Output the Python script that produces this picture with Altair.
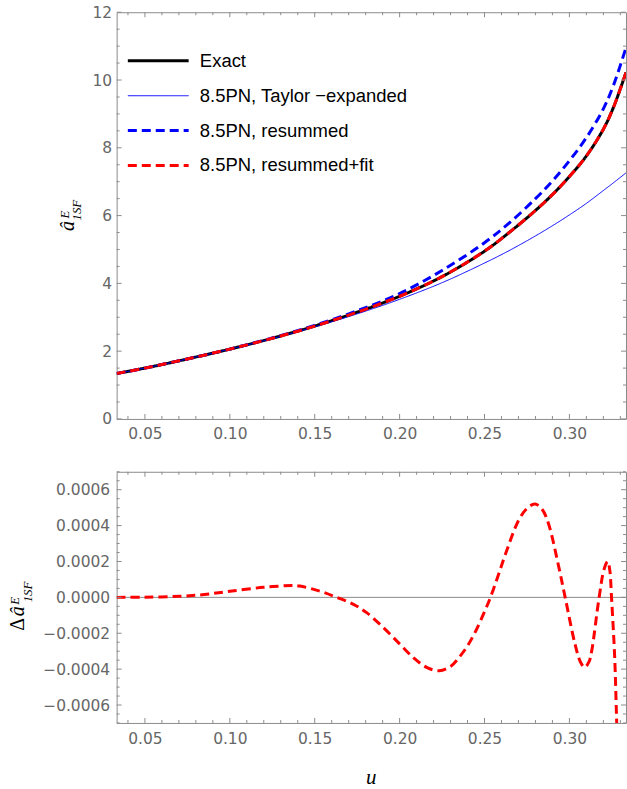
import altair as alt
import pandas as pd

# ---- upper panel: a_1SF^E versus u ----
u_vals = [0.0333, 0.05, 0.075, 0.10, 0.125, 0.15, 0.175, 0.20, 0.225, 0.25,
          0.265, 0.28, 0.29, 0.30, 0.31, 0.32, 0.326, 0.3333]
exact_vals = [1.34, 1.50, 1.77, 2.06, 2.38, 2.74, 3.15, 3.62, 4.20, 4.95,
              5.52, 6.15, 6.62, 7.15, 7.76, 8.55, 9.20, 10.22]
taylor_vals = [1.34, 1.50, 1.77, 2.06, 2.37, 2.72, 3.10, 3.53, 4.02, 4.60,
               4.98, 5.40, 5.70, 6.02, 6.36, 6.74, 6.97, 7.26]
resummed_vals = [1.34, 1.50, 1.77, 2.06, 2.39, 2.76, 3.19, 3.70, 4.38, 5.20,
                 5.80, 6.50, 7.02, 7.62, 8.30, 9.15, 9.85, 10.95]
# the fitted resummation agrees with the exact values to ~1e-3 (lower panel)
fit_vals = list(exact_vals)

# ---- lower panel: residual of the resummed+fit model ----
res_u = [0.0333, 0.05, 0.07, 0.085, 0.10, 0.12, 0.137, 0.1412, 0.153, 0.163,
         0.1728, 0.1806, 0.1904, 0.2002, 0.208, 0.2159, 0.2233, 0.230,
         0.235, 0.24, 0.2447, 0.25, 0.2535, 0.258, 0.2623, 0.2701, 0.275,
         0.2797, 0.284, 0.2877, 0.2935, 0.2975, 0.3033, 0.3065, 0.3090,
         0.3115, 0.3131, 0.3175, 0.3205, 0.3226, 0.3238, 0.3248, 0.3267,
         0.3277, 0.3285]
res_vals = [0.0, 0.000001, 0.000006, 0.000016, 0.000034, 0.000056, 0.000066,
            0.000063, 0.000035, 0.0, -0.000039, -0.000085, -0.000168,
            -0.000261, -0.000335, -0.00039, -0.000409, -0.000385, -0.000335,
            -0.00027, -0.00019, -0.00008, 0.0, 0.00012, 0.00024, 0.00043,
            0.000495, 0.00052, 0.00049, 0.00041, 0.00018, 0.0, -0.00026,
            -0.00036, -0.00039, -0.00036, -0.0003, 0.0, 0.00016, 0.0002,
            0.00015, 0.0, -0.00034, -0.00065, -0.0009]

# ---- tick positions ----
x_major = [0.05, 0.10, 0.15, 0.20, 0.25, 0.30]
x_minor = [round(0.01 * k, 2) for k in range(4, 34) if k % 5 != 0]
y_top_major = [0, 2, 4, 6, 8, 10, 12]
y_top_minor = [0.5 * k for k in range(1, 24) if k % 4 != 0]
y_bot_major = [-0.0006, -0.0004, -0.0002, 0.0, 0.0002, 0.0004, 0.0006]
y_bot_minor = [round(0.00005 * k, 6) for k in range(-14, 15) if k % 4 != 0]

SERIES = ["Exact", "8.5PN, Taylor \u2212expanded", "8.5PN, resummed",
          "8.5PN, resummed+fit"]
COLORS = ["#000000", "#0000ff", "#0000ff", "#ff0000"]
DASHES = [[1, 0], [1, 0], [9, 5], [9, 5]]
WIDTHS = [3, 1, 3, 3]

W, H_TOP, H_BOT, GAP = 511, 408, 252, 53
FRAME = "#8c8c8c"
LABEL = "#666666"
MAJOR, MINOR = 5, 3
SANS = "Liberation Sans"
TICK_FONT = "DejaVu Sans"
SERIF = "Liberation Serif"

x_scale = alt.Scale(domain=[1 / 30, 1 / 3], nice=False, zero=False)
y_top_scale = alt.Scale(domain=[0, 12], nice=False)
y_bot_scale = alt.Scale(domain=[-0.0007, 0.0007], nice=False)


def label_axis(values, fmt, pad):
    """Tick labels only; the frame ticks are drawn as rule layers."""
    return alt.Axis(values=values, format=fmt, title=None, ticks=False,
                    tickSize=0, domain=False, grid=False, labelPadding=pad,
                    labelFont=TICK_FONT, labelFontSize=15.5,
                    labelColor=LABEL)


AX_X_TOP = label_axis(x_major, ".2f", 8)
AX_Y_TOP = label_axis(y_top_major, "d", 5)
AX_X_BOT = label_axis(x_major, ".2f", 9)
AX_Y_BOT = label_axis(y_bot_major, ".4f", 7)

top_df = pd.DataFrame({
    "u": u_vals * 4,
    "value": exact_vals + taylor_vals + resummed_vals + fit_vals,
    "series": [s for s in SERIES for _ in u_vals],
})
res_df = pd.DataFrame({"u": res_u, "delta": res_vals})


def frame_ticks(y_scale, x_axis, y_axis, ys_major, ys_minor, height):
    """Inward-pointing ticks on all four sides of a panel."""
    layers = []
    for vals, size in ((x_major, MAJOR), (x_minor, MINOR)):
        base = alt.Chart(pd.DataFrame({"v": vals}))
        xenc = alt.X("v:Q", scale=x_scale, axis=x_axis)
        layers.append(base.mark_rule(color=FRAME, strokeWidth=1).encode(
            x=xenc, y=alt.value(height), y2=alt.value(height - size)))
        layers.append(base.mark_rule(color=FRAME, strokeWidth=1).encode(
            x=xenc, y=alt.value(0), y2=alt.value(size)))
    for vals, size in ((ys_major, MAJOR), (ys_minor, MINOR)):
        base = alt.Chart(pd.DataFrame({"v": vals}))
        yenc = alt.Y("v:Q", scale=y_scale, axis=y_axis)
        layers.append(base.mark_rule(color=FRAME, strokeWidth=1).encode(
            y=yenc, x=alt.value(0), x2=alt.value(size)))
        layers.append(base.mark_rule(color=FRAME, strokeWidth=1).encode(
            y=yenc, x=alt.value(W), x2=alt.value(W - size)))
    return layers


def text(s, x, y, size, angle=270, align="center", italic=True):
    return alt.Chart(pd.DataFrame({"t": [s]})).mark_text(
        font=SERIF, fontSize=size, fontStyle="italic" if italic else "normal",
        angle=angle, align=align, baseline="alphabetic", color="black",
    ).encode(text="t:N", x=alt.value(x), y=alt.value(y))


legend = alt.Legend(
    title=None, orient="none", legendX=32.5, legendY=39.5,
    symbolType="M-6.1,0H6.1", symbolSize=100, labelOffset=32.5,
    labelFont=SANS, labelFontSize=18.5, labelColor="black", rowPadding=16,
    labelLimit=400,
)

line_layers = []
for name in SERIES:
    line_layers.append(
        alt.Chart(top_df).transform_filter(alt.datum.series == name)
        .mark_line(clip=True, interpolate="catmull-rom").encode(
            x=alt.X("u:Q", scale=x_scale, axis=AX_X_TOP),
            y=alt.Y("value:Q", scale=y_top_scale, axis=AX_Y_TOP),
            color=alt.Color("series:N", legend=legend,
                            scale=alt.Scale(domain=SERIES, range=COLORS)),
            strokeDash=alt.StrokeDash("series:N", legend=legend,
                                      scale=alt.Scale(domain=SERIES,
                                                      range=DASHES)),
            strokeWidth=alt.StrokeWidth("series:N", legend=legend,
                                        scale=alt.Scale(type="ordinal",
                                                        domain=SERIES,
                                                        range=WIDTHS)),
        )
    )

top_titles = [
    text("\u00e2", -43, 214.5, 20),
    text("E", -48, 207, 13, align="left"),
    text("1SF", -35.5, 209, 13, align="left"),
]

top = alt.layer(
    *line_layers,
    *frame_ticks(y_top_scale, AX_X_TOP, AX_Y_TOP, y_top_major, y_top_minor,
                 H_TOP),
    *top_titles,
).properties(width=W, height=H_TOP)

res_line = alt.Chart(res_df).mark_line(
    clip=True, interpolate="catmull-rom", color="#ff0000", strokeWidth=3,
    strokeDash=[9, 5],
).encode(
    x=alt.X("u:Q", scale=x_scale, axis=AX_X_BOT),
    y=alt.Y("delta:Q", scale=y_bot_scale, axis=AX_Y_BOT),
)

zero_line = alt.Chart(pd.DataFrame({"y": [0.0]})).mark_rule(
    color=FRAME, strokeWidth=1
).encode(y=alt.Y("y:Q", scale=y_bot_scale, axis=AX_Y_BOT))

bot_titles = [
    text("\u0394", -93, 153, 20, italic=False),
    text("\u00e2", -93, 140, 20),
    text("E", -98, 133.5, 13, align="left"),
    text("1SF", -85, 131, 13, align="left"),
    text("u", W / 2, 313, 21, angle=0),
]

bottom = alt.layer(
    zero_line,
    res_line,
    *frame_ticks(y_bot_scale, AX_X_BOT, AX_Y_BOT, y_bot_major, y_bot_minor,
                 H_BOT),
    *bot_titles,
).properties(width=W, height=H_BOT)

chart = alt.vconcat(top, bottom, spacing=GAP, bounds="flush").properties(
    padding={"left": 7, "top": 3, "right": 0, "bottom": 10},
    background="white",
).configure_view(stroke=FRAME, strokeWidth=1)

chart.save("out.html", embed_options={"renderer": "svg", "actions": False})
